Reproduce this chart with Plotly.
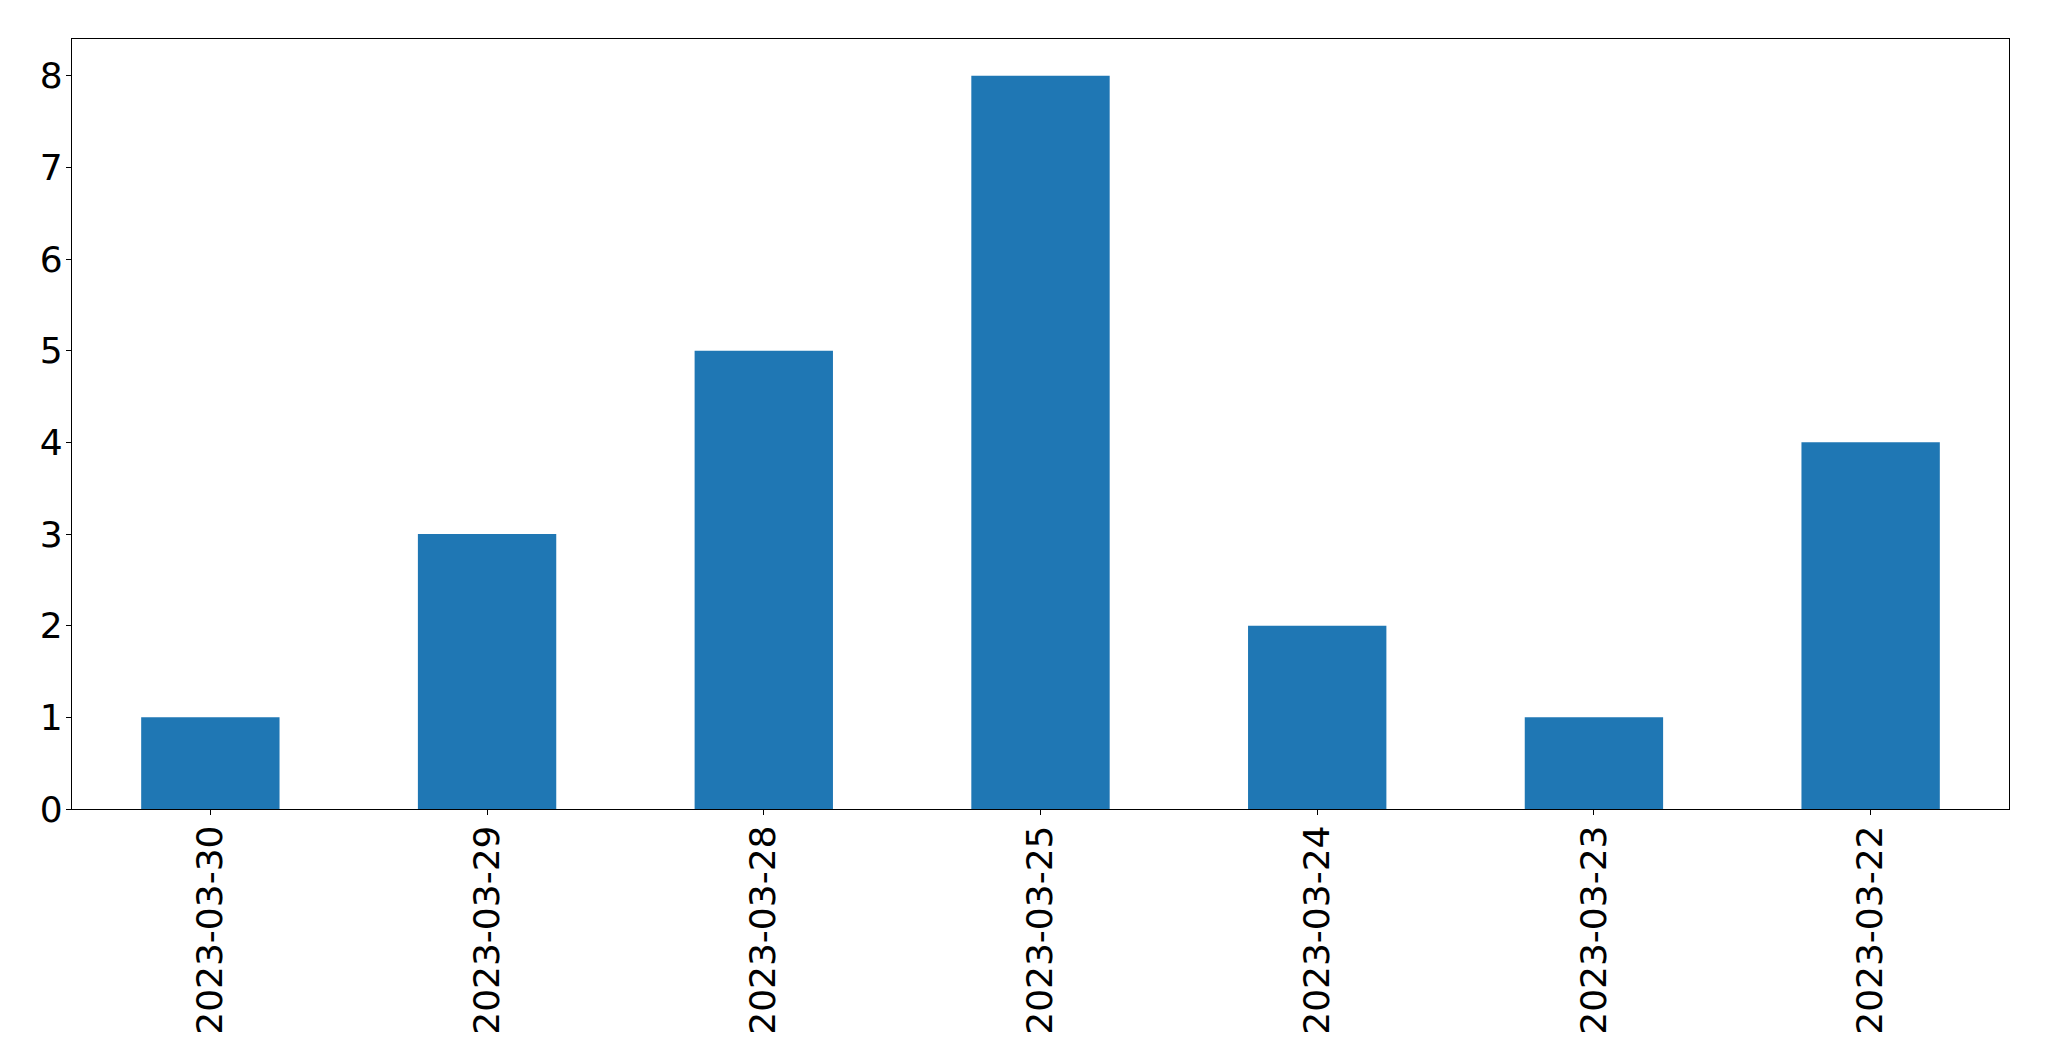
import plotly.graph_objects as go

dates = ["2023-03-30", "2023-03-29", "2023-03-28", "2023-03-25", "2023-03-24", "2023-03-23", "2023-03-22"]
counts = [1, 3, 5, 8, 2, 1, 4]
y_ticks = [0, 1, 2, 3, 4, 5, 6, 7, 8]

fig = go.Figure(go.Bar(x=dates, y=counts, marker=dict(color="#1f77b4", line=dict(width=0)), width=0.5))

axis_common = dict(
    showline=True, linecolor="black", linewidth=1.3, mirror=True,
    ticks="outside", ticklen=5, tickwidth=1.3, tickcolor="black",
    showgrid=False, zeroline=False,
    tickfont=dict(family="DejaVu Sans", size=36, color="black"),
    ticklabelstandoff=-4,
)

fig.update_layout(
    width=2041, height=1053,
    margin=dict(l=64, r=40, t=31, b=252, autoexpand=False),
    plot_bgcolor="white", paper_bgcolor="white",
    showlegend=False,
    xaxis=dict(type="category", range=[-0.5, 6.5], tickangle=-90, **axis_common),
    yaxis=dict(range=[0, 8.4], tickvals=y_ticks, ticktext=[str(v) for v in y_ticks], **axis_common),
)

fig.write_html("out.html")
